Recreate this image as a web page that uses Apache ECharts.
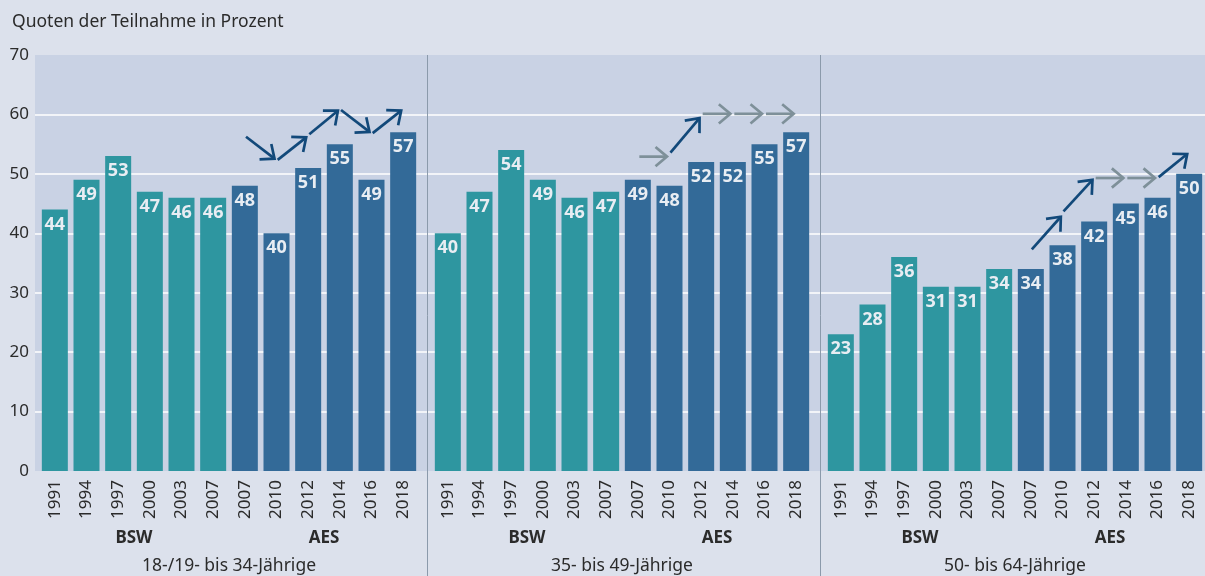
<!DOCTYPE html>
<html>
<head>
<meta charset="utf-8">
<script src="https://cdn.jsdelivr.net/npm/echarts@6/dist/echarts.min.js"></script>
<style>
  html, body { margin: 0; padding: 0; background: #dce1ec; }
  #chart { width: 1205px; height: 576px; }
</style>
</head>
<body>
<div id="chart"></div>
<script>
// categories
const years = ['1991', '1994', '1997', '2000', '2003', '2007', '2007', '2010', '2012', '2014', '2016', '2018']
const surveys = ['BSW', 'AES']
const bswCount = 6 // first 6 bars are BSW, the rest AES
const panels = ['18-/19- bis 34-Jährige', '35- bis 49-Jährige', '50- bis 64-Jährige']
const yTicks = [0, 10, 20, 30, 40, 50, 60, 70]

// Teilnahmequoten in Prozent
const young = [44, 49, 53, 47, 46, 46, 48, 40, 51, 55, 49, 57]
const middle = [40, 47, 54, 49, 46, 47, 49, 48, 52, 52, 55, 57]
const old = [23, 28, 36, 31, 31, 34, 34, 38, 42, 45, 46, 50]

// trend arrows: [from index, from level, to index, to level, changed (1) / stable (0)]
const arrowsYoung = [
  [6, 56.4, 7, 52.3, 1],
  [7, 52.2, 8, 56.4, 1],
  [8, 56.5, 9, 60.9, 1],
  [9, 60.9, 10, 56.8, 1],
  [10, 56.7, 11, 60.9, 1]
]
const arrowsMiddle = [
  [6, 52.9, 7, 52.9, 0],
  [7, 53.4, 8, 59.7, 1],
  [8, 60.1, 9, 60.1, 0],
  [9, 60.1, 10, 60.1, 0],
  [10, 60.1, 11, 60.1, 0]
]
const arrowsOld = [
  [6, 37.1, 7, 43.1, 1],
  [7, 43.5, 8, 49.3, 1],
  [8, 49.3, 9, 49.3, 0],
  [9, 49.3, 10, 49.3, 0],
  [10, 49.3, 11, 53.6, 1]
]

const values = [young, middle, old]
const arrows = [arrowsYoung, arrowsMiddle, arrowsOld]

const chart = echarts.init(document.getElementById('chart'))
const font = 'Noto Sans'
const colorBsw = '#2e96a0'
const colorAes = '#336a98'
const colorUp = '#12497a'
const colorFlat = '#7e9099'

function renderArrow(params, api) {
  const p0 = api.coord([api.value(0), api.value(1)])
  const p1 = api.coord([api.value(2), api.value(3)])
  const dx = p1[0] - p0[0]
  const dy = p1[1] - p0[1]
  const len = Math.sqrt(dx * dx + dy * dy)
  const ux = dx / len
  const uy = dy / len
  const a = [p0[0] + ux * 1.5, p0[1] + uy * 1.5]
  const b = [p1[0] - ux * 2.5, p1[1] - uy * 2.5]
  const ang = 40 * Math.PI / 180
  const L = 15
  const leg = function (s) {
    const c = Math.cos(s * ang)
    const sn = Math.sin(s * ang)
    const rx = -ux * c + uy * sn
    const ry = -ux * sn - uy * c
    return [b[0] + rx * L, b[1] + ry * L]
  }
  const color = api.value(4) === 1 ? colorUp : colorFlat
  return {
    type: 'group',
    children: [
      { type: 'line', shape: { x1: a[0], y1: a[1], x2: b[0], y2: b[1] }, style: { stroke: color, lineWidth: 2.7 } },
      { type: 'polyline', shape: { points: [leg(1), b, leg(-1)] }, style: { stroke: color, fill: null, lineWidth: 2.7 } }
    ]
  }
}

const grids = [
  // background plot area with the visible y axis
  { left: 35, right: 0, top: 55, bottom: 105, show: true, backgroundColor: '#c9d2e4', borderWidth: 0 }
]
const xAxes = [{ gridIndex: 0, type: 'value', show: false }]
const yAxes = [{
  gridIndex: 0,
  type: 'value',
  min: 0,
  max: 70,
  interval: 10,
  axisLine: { show: false },
  axisTick: { show: false },
  axisLabel: { color: '#2b2b2b', fontSize: 17, fontFamily: font, margin: 6 },
  splitLine: { show: true, showMinLine: false, showMaxLine: false, lineStyle: { color: '#ffffff', width: 1.6 } }
}]
const series = []

panels.forEach(function (name, i) {
  const g = i + 1
  grids.push({ left: 39 + i * 393, width: 380, top: 55, bottom: 105 })
  xAxes.push({
    gridIndex: g,
    type: 'category',
    data: years,
    axisLine: { show: false },
    axisTick: { show: false },
    axisLabel: { interval: 0, rotate: 90, color: '#2b2b2b', fontSize: 17, fontFamily: font, margin: 9 }
  })
  xAxes.push({
    gridIndex: g,
    type: 'category',
    data: surveys,
    position: 'bottom',
    offset: 51,
    axisLine: { show: false },
    axisTick: { show: false },
    axisLabel: { interval: 0, color: '#2b2b2b', fontSize: 17, fontWeight: 'bold', fontFamily: font, margin: 8 }
  })
  xAxes.push({
    gridIndex: g,
    type: 'category',
    data: [name],
    position: 'bottom',
    offset: 78,
    axisLine: { show: false },
    axisTick: { show: false },
    axisLabel: { interval: 0, color: '#2b2b2b', fontSize: 17.5, fontFamily: font, margin: 8 }
  })
  yAxes.push({ gridIndex: g, type: 'value', min: 0, max: 70, interval: 10, show: false })

  series.push({
    type: 'bar',
    xAxisIndex: 1 + i * 3,
    yAxisIndex: g,
    barWidth: 26,
    data: values[i].map(function (v, k) {
      return { value: v, itemStyle: { color: k < bswCount ? colorBsw : colorAes } }
    }),
    label: {
      show: true,
      position: 'insideTop',
      distance: 6,
      color: '#e8edf3',
      fontSize: 18,
      fontWeight: 'bold',
      fontFamily: font
    }
  })
  series.push({
    type: 'custom',
    xAxisIndex: 1 + i * 3,
    yAxisIndex: g,
    clip: false,
    z: 5,
    renderItem: renderArrow,
    encode: { x: [0, 2], y: [1, 3] },
    data: arrows[i]
  })
})

chart.setOption({
  backgroundColor: '#dce1ec',
  animation: false,
  title: {
    text: 'Quoten der Teilnahme in Prozent',
    left: 7,
    top: 8,
    textStyle: { color: '#2b2b2b', fontSize: 17.5, fontWeight: 'normal', fontFamily: font }
  },
  grid: grids,
  xAxis: xAxes,
  yAxis: yAxes,
  series: series,
  graphic: [
    { type: 'line', z: 50, shape: { x1: 427.5, y1: 55, x2: 427.5, y2: 576 }, style: { stroke: '#8b9aab', lineWidth: 1 } },
    { type: 'line', z: 50, shape: { x1: 820.5, y1: 55, x2: 820.5, y2: 576 }, style: { stroke: '#8b9aab', lineWidth: 1 } }
  ]
})
</script>
</body>
</html>
